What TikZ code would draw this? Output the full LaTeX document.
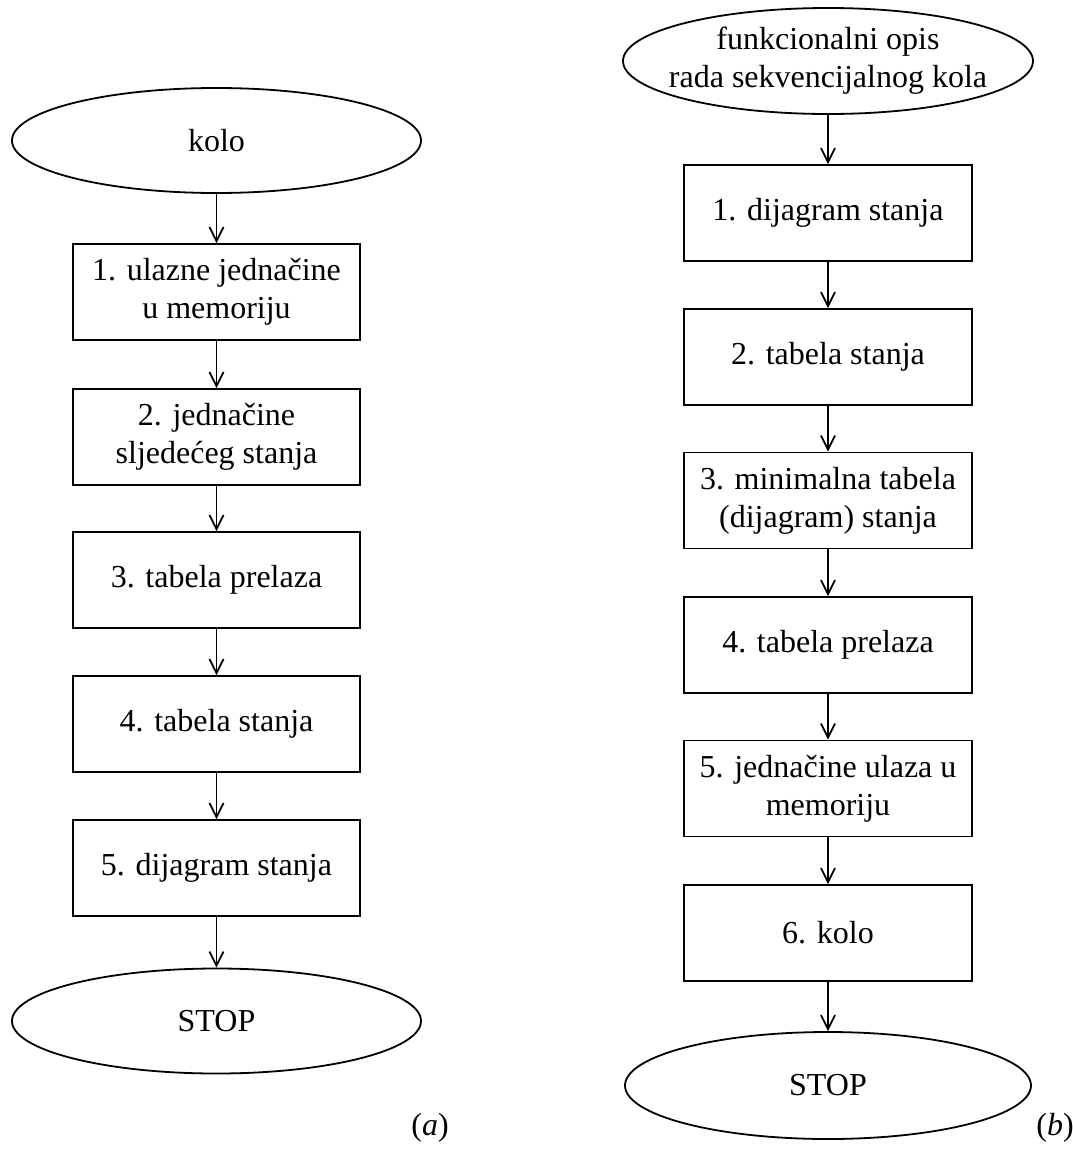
\documentclass[tikz,border=0pt]{standalone}
\usepackage{fontspec}
\setmainfont{Liberation Serif}
\usetikzlibrary{shapes.geometric,arrows.meta}
\begin{document}
\begin{tikzpicture}[x=1pt,y=-1pt,
  every node/.style={font=\fontsize{32}{38}\selectfont},
  stepbox/.style={draw,line width=1.8pt,minimum width=287pt,minimum height=96pt,inner sep=0pt,align=center},
  term/.style={draw,ellipse,line width=1.8pt,minimum width=409pt,minimum height=105pt,inner sep=0pt,align=center},
  txt/.style={inner sep=0pt,align=center},
  flow/.style={line width=1.8pt,-{Straight Barb[length=14pt,width=14pt,line width=1.8pt]}}]
\useasboundingbox (0,0) rectangle (1072,1159);
% (a)
\node[term] (a0) at (216.5,140.5) {kolo};
\node[stepbox] (a1) at (216.5,292) {1. ulazne jednačine\\u memoriju};
\node[stepbox] (a2) at (216.5,437) {2. jednačine\\sljedećeg stanja};
\node[stepbox] (a3) at (216.5,580) {3. tabela prelaza};
\node[stepbox] (a4) at (216.5,724) {4. tabela stanja};
\node[stepbox] (a5) at (216.5,868) {5. dijagram stanja};
\node[term] (a6) at (216.5,1021) {STOP};
\node[txt] (la) at (430,1128) {(\textit{a})};
\draw[flow] (a0) -- (a1);
\draw[flow] (a1) -- (a2);
\draw[flow] (a2) -- (a3);
\draw[flow] (a3) -- (a4);
\draw[flow] (a4) -- (a5);
\draw[flow] (a5) -- (a6);
% (b)
\node[term,minimum width=410pt,minimum height=106pt] (b0) at (828,61) {};
\node[txt] (b0t) at (b0.center) {funkcionalni opis\\rada sekvencijalnog kola};
\node[stepbox,minimum width=288pt] (b1) at (828,213) {1. dijagram stanja};
\node[stepbox,minimum width=288pt] (b2) at (828,357) {2. tabela stanja};
\node[stepbox,minimum width=288pt] (b3) at (828,500.5) {3. minimalna tabela\\(dijagram) stanja};
\node[stepbox,minimum width=288pt] (b4) at (828,645) {4. tabela prelaza};
\node[stepbox,minimum width=288pt] (b5) at (828,788.5) {5. jednačine ulaza u\\memoriju};
\node[stepbox,minimum width=288pt] (b6) at (828,933) {6. kolo};
\node[term,minimum width=406pt,minimum height=107pt] (b7) at (828,1085.5) {STOP};
\node[txt] (lb) at (1055,1128) {(\textit{b})};
\draw[flow] (b0) -- (b1);
\draw[flow] (b1) -- (b2);
\draw[flow] (b2) -- (b3);
\draw[flow] (b3) -- (b4);
\draw[flow] (b4) -- (b5);
\draw[flow] (b5) -- (b6);
\draw[flow] (b6) -- (b7);
\end{tikzpicture}
\end{document}
